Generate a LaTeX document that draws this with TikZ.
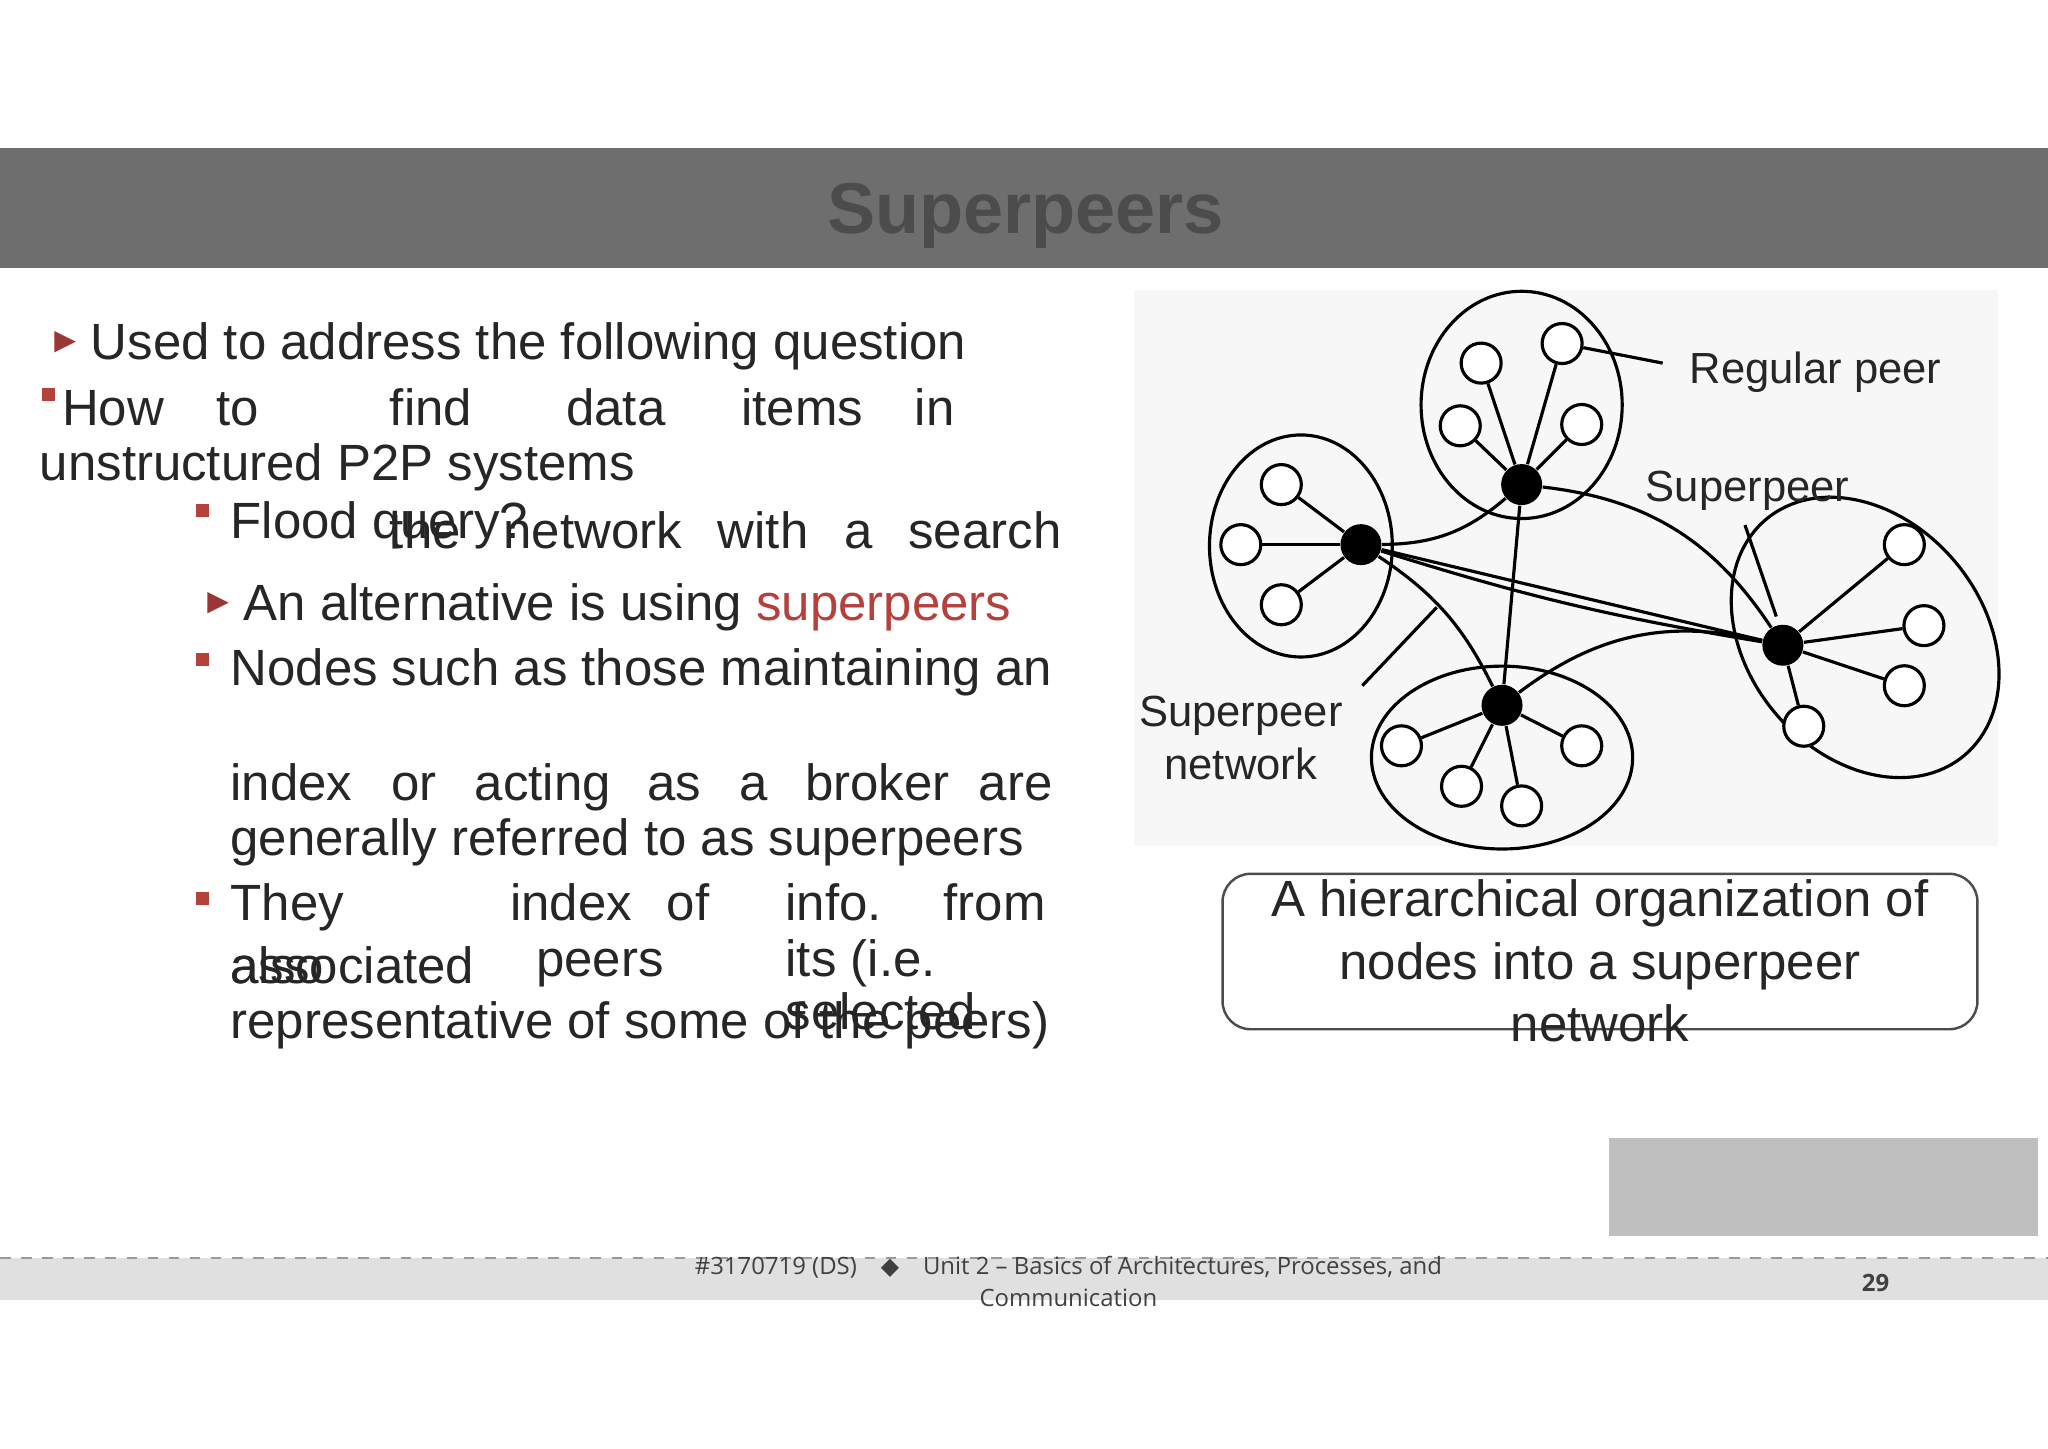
\documentclass[tikz,border=0pt]{standalone}
\usepackage{fontspec}
\setmainfont{Liberation Sans}
\newfontfamily\footfont{Open Sans}
\newfontfamily\symfont{DejaVu Sans}
\definecolor{myred}{HTML}{B5413D}
\definecolor{band}{HTML}{6E6E6E}
\begin{document}
\begin{tikzpicture}[x=0.01306cm,y=-0.01306cm,
  body/.style={anchor=base west,inner sep=0,font=\fontsize{14.5}{16}\selectfont,text=black!85},
  lab/.style={inner sep=0,font=\fontsize{12.4}{15}\selectfont,text=black!85},
  peer/.style={circle,draw,line width=0.9pt,inner sep=0,minimum size=0.4cm,fill=white},
  sp/.style={circle,fill=black,inner sep=0,minimum size=0.41cm},
  cl/.style={draw,line width=0.9pt},
  ln/.style={draw,line width=0.9pt},
  bullsq/.style={fill=myred,inner sep=0,minimum size=0.13cm},
  tri/.style={inner sep=0,font=\fontsize{8}{9}\selectfont,text=myred!85!black}]
\useasboundingbox (0,0) rectangle (1568,1109);
\fill[white] (0,0) rectangle (1568,1109);
% title band
\fill[band] (0,113) rectangle (1568,205);
\node[inner sep=0,font=\fontsize{20.5}{24}\bfseries\selectfont,text=black!70] (title) at (785,165) {Superpeers};
% body
\node[tri] (t1) at (50,262) {\symfont ▶};
\node[body] (l1) at (69,275) {Used to address the following question};
\node[bullsq] (s1) at (37,302) {};
\foreach \w/\x [count=\i] in {How/47,to/165,find/298,data/433,items/567,in/700}
  \node[body] (h\i) at (\x,326) {\w};
\node[body] (l2) at (30,368) {unstructured P2P systems};
\node[bullsq] (s2) at (155,391) {};
\node[body] (l3) at (176,412) {Flood query?};
\foreach \w/\x [count=\i] in {the/298,network/385,with/549,a/646,search/695}
  \node[body] (n\i) at (\x,420) {\w};
\node[tri] (t2) at (167,462) {\symfont ▶};
\node[body] (l4) at (186,475) {An alternative is using \textcolor{myred}{superpeers}};
\node[bullsq] (s3) at (155,505) {};
\node[body] (l5) at (176,525) {Nodes such as those maintaining an};
\foreach \w/\x [count=\i] in {index/176,or/299,acting/363,as/495,a/566,broker/616,are/749}
  \node[body] (b\i) at (\x,613) {\w};
\node[body] (l6) at (176,655) {generally referred to as superpeers};
\node[bullsq] (s4) at (155,688) {};
\foreach \w/\x [count=\i] in {They/176,index/390,of/510,info./601,from/722}
  \node[body] (y\i) at (\x,705) {\w};
\node[body] (a1) at (176,753) {also};
\node[body] (a2) at (176,753) {associated};
\node[body] (a3) at (410,748) {peers};
\node[body] (a4) at (601,748) {its (i.e.};
\node[body] (a5) at (601,788) {selected};
\node[body] (l7) at (176,795) {representative of some of the peers)};
% diagram
\fill[black!3] (868,222) rectangle (1530,648);
\draw[cl] (1165,310) ellipse [x radius=77,y radius=87];
\draw[cl] (996,418) ellipse [x radius=70,y radius=85];
\draw[cl] (1150,580) ellipse [x radius=100,y radius=70];
\draw[cl,rotate around={-50:(1428,488)}] (1428,488) ellipse [x radius=118,y radius=90];
\node[sp] (S1) at (1165,371) {};
\node[sp] (S2) at (1042,417) {};
\node[sp] (S3) at (1150,540) {};
\node[sp] (S4) at (1365,494) {};
\foreach \p [count=\i] in {(1134,278),(1196,263),(1118,326),(1211,325)} {\node[peer] (P1\i) at \p {}; \draw[ln] (S1)--(P1\i);}
\foreach \p [count=\i] in {(981,371),(950,417),(981,463)} {\node[peer] (P2\i) at \p {}; \draw[ln] (S2)--(P2\i);}
\foreach \p [count=\i] in {(1073,571),(1119,602),(1165,617),(1211,571)} {\node[peer] (P3\i) at \p {}; \draw[ln] (S3)--(P3\i);}
\foreach \p [count=\i] in {(1458,417),(1473,479),(1458,525),(1381,556)} {\node[peer] (P4\i) at \p {}; \draw[ln] (S4)--(P4\i);}
\draw[ln] (S2) to[bend right=20] (S1);
\draw[ln] (S2) -- (S4);
\draw[ln] (S2) to[bend right=4] (S4);
\draw[ln] (S2) to[bend left=15] (S3);
\draw[ln] (S1) -- (S3);
\draw[ln] (S1) to[bend left=25] (S4);
\draw[ln] (S3) to[bend left=25] (S4);
\node[lab] (rp) at (1390,285) {Regular peer};
\coordinate (rpc) at (1273,278);
\draw[ln] (P12) -- (rpc);
\node[lab] (spl) at (1338,376) {Superpeer};
\coordinate (spc1) at (1336,402); \coordinate (spc2) at (1360,472);
\draw[ln] (spc1) -- (spc2);
\node[lab,align=center] (spn) at (950,565) {Superpeer\\network};
\coordinate (snc1) at (1043,525); \coordinate (snc2) at (1100,465);
\draw[ln] (snc1) -- (snc2);
% caption
\draw[rounded corners=8pt,line width=0.7pt,black!70] (936,669) rectangle (1514,788);
\node[body,anchor=base] (c1) at (1225,702) {A hierarchical organization of};
\node[body,anchor=base] (c2) at (1225,750) {nodes into a superpeer};
\node[body,anchor=base] (c3) at (1225,797) {network};
% logo placeholder
\fill[black!25] (1232,871) rectangle (1560,946);
% footer
\fill[black!12] (0,963) rectangle (1568,995);
\draw[dashed,black!40,line width=0.4pt] (0,963) -- (1568,963);
\node[inner sep=0,font=\footfont\fontsize{6.8}{9}\selectfont,text=black!75,align=center] (ft) at (818,981) {\#3170719 (DS)\quad{\symfont ◆}\quad Unit 2 – Basics of Architectures, Processes, and\\Communication};
\node[inner sep=0,font=\footfont\fontsize{6.8}{9}\bfseries\selectfont,text=black!75] (pg) at (1436,982) {29};
\end{tikzpicture}
\end{document}
